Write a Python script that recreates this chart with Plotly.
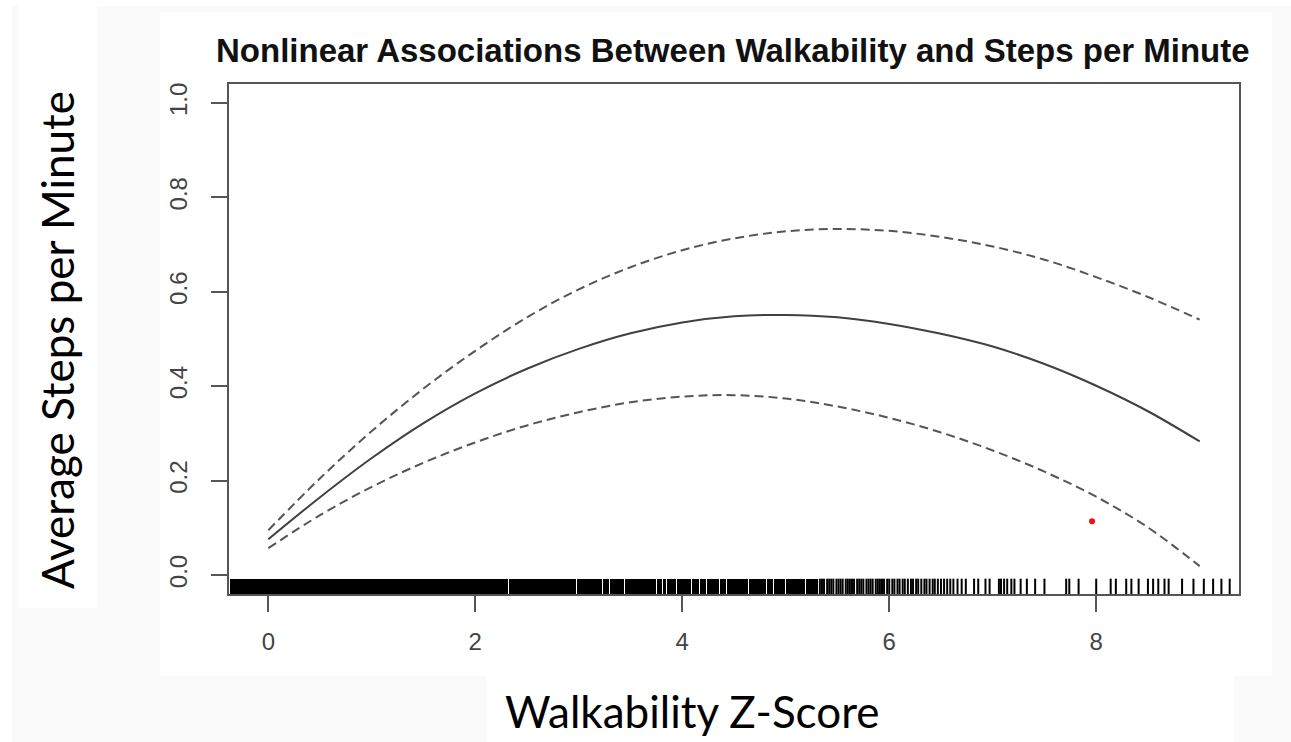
import plotly.graph_objects as go

# ---------------- data ----------------
walk_x = [0, 0.5, 1, 1.5, 2, 2.5, 3, 3.5, 4, 4.5, 5, 5.5, 6, 6.5, 7, 7.5, 8, 8.5, 9]
fit_mid = [0.076, 0.165, 0.248, 0.322, 0.385, 0.437, 0.479, 0.512, 0.535, 0.548,
           0.551, 0.546, 0.532, 0.511, 0.484, 0.447, 0.401, 0.347, 0.283]
fit_upper = [0.095, 0.205, 0.305, 0.395, 0.475, 0.546, 0.605, 0.652, 0.688, 0.713,
             0.728, 0.733, 0.729, 0.716, 0.696, 0.668, 0.631, 0.589, 0.541]
fit_lower = [0.057, 0.127, 0.187, 0.238, 0.281, 0.317, 0.345, 0.366, 0.378, 0.381,
             0.374, 0.357, 0.333, 0.302, 0.264, 0.219, 0.166, 0.101, 0.019]

red_point_x = [7.96]
red_point_y = [0.114]

# rug: one fully covered stretch, interrupted by thin gaps, then single ticks
rug_dense_span = (-0.37, 5.31)
rug_gaps = [2.32, 2.77, 2.98, 3.23, 3.30, 3.36, 3.44, 3.75, 3.81, 3.85, 3.94, 4.09,
            4.17, 4.21, 4.23, 4.36, 4.43, 4.64, 4.81, 4.88, 5.00, 5.08, 5.19]
rug_ticks = [5.33, 5.35, 5.37, 5.40, 5.42, 5.44, 5.46, 5.49, 5.51, 5.53, 5.55, 5.58,
             5.60, 5.62, 5.64, 5.66, 5.69, 5.71, 5.73, 5.75, 5.78, 5.80, 5.82, 5.84,
             5.87, 5.89, 5.91, 5.93, 5.95, 5.98, 6.00, 6.03, 6.05, 6.08, 6.10, 6.13,
             6.15, 6.18, 6.21, 6.23, 6.26, 6.28, 6.31, 6.34, 6.36, 6.39, 6.42, 6.44,
             6.47, 6.50, 6.53, 6.56, 6.59, 6.62, 6.66, 6.70, 6.74, 6.82, 6.86, 6.93,
             6.97, 7.06, 7.08, 7.11, 7.14, 7.18, 7.21, 7.27, 7.33, 7.41, 7.50,
             7.71, 7.74, 7.83, 8.00, 8.14, 8.19, 8.29, 8.34, 8.41, 8.50, 8.55,
             8.60, 8.66, 8.70, 8.83, 8.94, 9.04, 9.13, 9.21, 9.29]

x_ticks = [0, 2, 4, 6, 8]
y_ticks = [0.0, 0.2, 0.4, 0.6, 0.8, 1.0]
y_tick_text = ["0.0", "0.2", "0.4", "0.6", "0.8", "1.0"]

title_text = "Nonlinear Associations Between Walkability and Steps per Minute"
x_title = "Walkability Z-Score"
y_title = "Average Steps per Minute"

# ---------------- layout geometry ----------------
W, H = 1291, 742
ML, MR, MT, MB = 229, 52, 84, 148
PW, PH = W - ML - MR, H - MT - MB
X_RANGE = [-0.38, 9.38]
Y_RANGE = [-0.04, 1.04]
RUG_TOP = -0.04 + 0.03 * (Y_RANGE[1] - Y_RANGE[0])
GAP_W = 0.009


def px(x):
    return (x - ML) / PW


def py(y):
    return 1 - (y - MT) / PH


fig = go.Figure()

# dense rug stretches, built from the dense span and its thin gaps
edges = [rug_dense_span[0]]
for g in rug_gaps:
    edges += [g - GAP_W / 2, g + GAP_W / 2]
edges.append(rug_dense_span[1])
bands = list(zip(edges[0::2], edges[1::2]))
fig.add_trace(go.Bar(
    x=[(a + b) / 2 for a, b in bands],
    width=[b - a for a, b in bands],
    y=[RUG_TOP - Y_RANGE[0]] * len(bands),
    base=[Y_RANGE[0]] * len(bands),
    marker=dict(color="black", line=dict(width=0)),
    showlegend=False, hoverinfo="skip"))

# single rug ticks
rx, ry = [], []
for v in rug_ticks:
    rx += [v, v, None]
    ry += [Y_RANGE[0], RUG_TOP, None]
fig.add_trace(go.Scatter(x=rx, y=ry, mode="lines",
                         line=dict(color="black", width=2),
                         showlegend=False, hoverinfo="skip"))

dash = "9px,5px"
fig.add_trace(go.Scatter(x=walk_x, y=fit_upper, mode="lines",
                         line=dict(color="#555555", width=2, dash=dash, shape="spline"),
                         showlegend=False))
fig.add_trace(go.Scatter(x=walk_x, y=fit_lower, mode="lines",
                         line=dict(color="#555555", width=2, dash=dash, shape="spline"),
                         showlegend=False))
fig.add_trace(go.Scatter(x=walk_x, y=fit_mid, mode="lines",
                         line=dict(color="#404040", width=2, shape="spline"),
                         showlegend=False))
fig.add_trace(go.Scatter(x=red_point_x, y=red_point_y, mode="markers",
                         marker=dict(color="#ee1111", size=6),
                         showlegend=False))

# slide background pieces (white boxes on a very light grey slide)
white_boxes = [
    (0, 0, W, 6),          # top strip
    (0, 0, 12, H),         # left strip
    (18, 0, 97, 608),      # y-title box
    (160, 12, 1272, 676),  # plot image
    (487, 676, 1234, H),   # x-title box
]
shapes = []
for x0, y0, x1, y1 in white_boxes:
    shapes.append(dict(type="rect", xref="paper", yref="paper",
                       x0=px(x0), x1=px(x1), y0=py(y1), y1=py(y0),
                       fillcolor="white", line=dict(width=0), layer="below"))

annotations = [
    dict(text=f"<b>{title_text}</b>", xref="paper", yref="paper",
         x=px(733), y=py(50), showarrow=False, xanchor="center", yanchor="middle",
         font=dict(family="Liberation Sans, Arial", size=33, color="#111111")),
    dict(text=y_title, xref="paper", yref="paper", x=px(57), y=py(340),
         showarrow=False, textangle=-90, xanchor="center", yanchor="middle",
         font=dict(family="Lato, Open Sans", size=44, color="black")),
    dict(text=x_title, xref="paper", yref="paper", x=px(692), y=py(711),
         showarrow=False, xanchor="center", yanchor="middle",
         font=dict(family="Lato, Open Sans", size=44, color="black")),
]

fig.update_layout(
    width=W, height=H,
    margin=dict(l=ML, r=MR, t=MT, b=MB, pad=0),
    paper_bgcolor="#fafafa", plot_bgcolor="white",
    bargap=0, barmode="overlay",
    shapes=shapes, annotations=annotations,
    font=dict(family="Liberation Sans, Arial", color="#444444"),
)
fig.update_xaxes(range=X_RANGE, tickvals=x_ticks, ticks="outside", ticklen=16,
                 tickwidth=2, tickcolor="#555555", showgrid=False, zeroline=False,
                 showline=True, mirror=True, linecolor="#555555", linewidth=2,
                 ticklabelstandoff=9,
                 tickfont=dict(size=24, color="#444444"))
fig.update_yaxes(range=Y_RANGE, tickvals=y_ticks, ticktext=y_tick_text,
                 ticks="outside", ticklen=16, tickwidth=2, tickcolor="#555555",
                 showgrid=False, zeroline=False, showline=True, mirror=True,
                 linecolor="#555555", linewidth=2, tickangle=-90,
                 ticklabelstandoff=14,
                 tickfont=dict(size=24, color="#444444"))

fig.write_html("out.html")
